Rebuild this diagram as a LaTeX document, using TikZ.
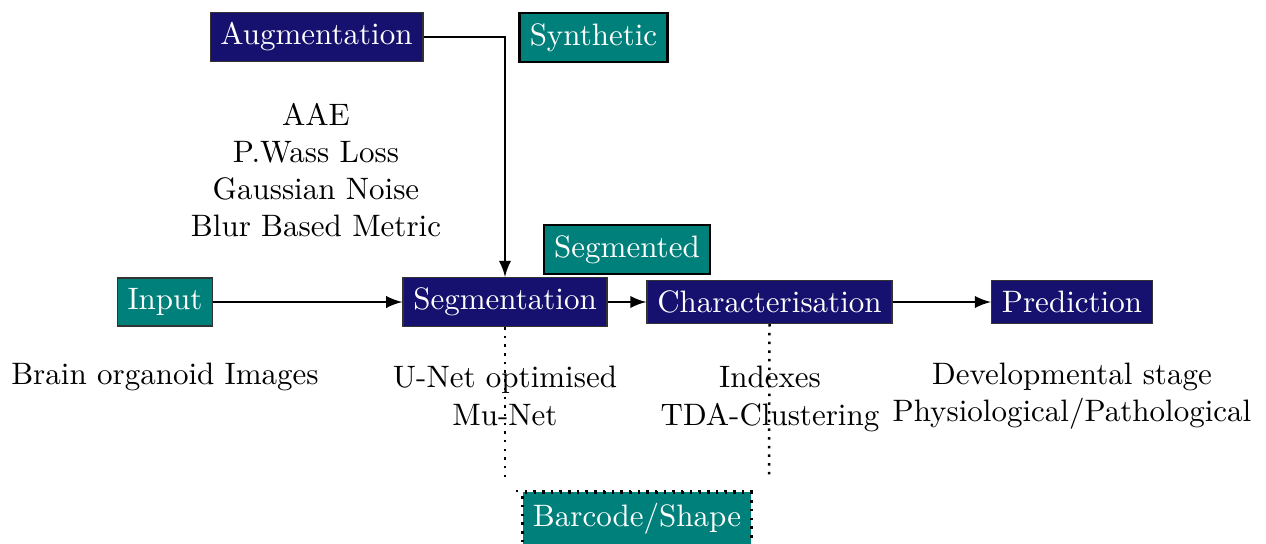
\documentclass[tikz,border=0pt]{standalone}
\usetikzlibrary{arrows}
\definecolor{navybox}{RGB}{22,17,110}
\definecolor{tealbox}{RGB}{0,128,122}
\begin{document}
\begin{tikzpicture}[x=0.3225pt,y=-0.3225pt,
  navyst/.style={draw=black!80,fill=navybox,text=white},
  tealst/.style={draw=black!80,fill=tealbox,text=white},
  tealthick/.style={draw=black,thick,fill=tealbox,text=white},
  lbl/.style={align=center},
  arr/.style={-latex,thick}]
\useasboundingbox (0,0) rectangle (1266,543);
\node[navyst] (aug) at (316.5,37) {Augmentation};
\node[tealthick] (syn) at (593.5,37.5) {Synthetic};
\node[lbl] (augl) at (316,170) {AAE\\P.Wass Loss\\Gaussian Noise\\Blur Based Metric};
\node[tealthick] (segd) at (627,249.5) {Segmented};
\node[tealst] (inp) at (165,302) {Input};
\node[navyst] (seg) at (505,302) {Segmentation};
\node[navyst] (cha) at (769.5,302) {Characterisation};
\node[navyst] (pre) at (1072,302) {Prediction};
\node[lbl] (inpl) at (165,377) {Brain organoid Images};
\node[lbl] (segl) at (505,396) {U-Net optimised\\Mu-Net};
\node[lbl] (chal) at (770,399) {Indexes\\TDA-Clustering};
\node[lbl] (prel) at (1072,396) {Developmental stage\\Physiological/Pathological};
\node[fill=tealbox,text=white,draw=black,dotted,thick,anchor=base,text depth=5pt] (bar) at (637,526) {Barcode/Shape};
\coordinate (segend) at (505,480);
\coordinate (chaend) at (769,478);
\coordinate (dl) at (516,491);
\coordinate (dr) at (758,491);
\draw[arr] (aug.east) -| (seg.north);
\draw[arr] (inp) -- (seg);
\draw[arr] (seg) -- (cha);
\draw[arr] (cha) -- (pre);
\draw[dotted,thick] (seg.south) -- (segend);
\draw[dotted,thick] (cha.south) -- (chaend);
\draw[dotted,thick] (dl) -- (dr);
\end{tikzpicture}
\end{document}
